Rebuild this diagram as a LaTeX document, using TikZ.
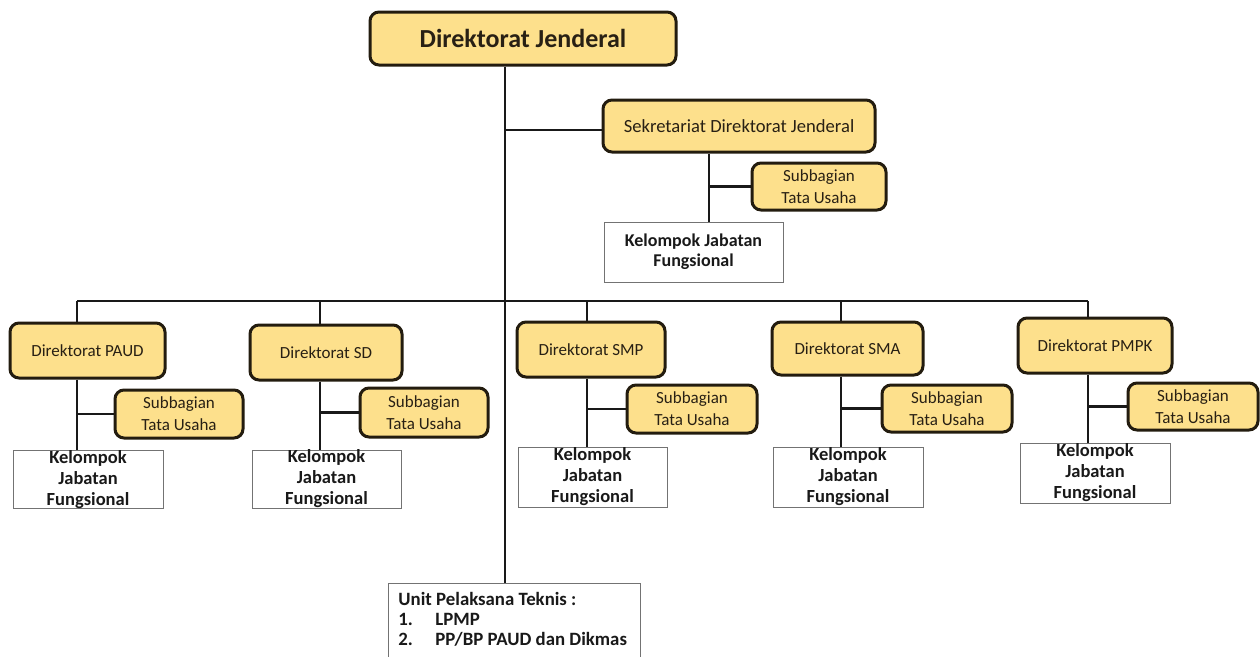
\documentclass[tikz,border=0pt]{standalone}
\usepackage{fontspec}
\setmainfont{Carlito}
\definecolor{boxfill}{RGB}{253,224,140}
\definecolor{boxline}{RGB}{35,28,15}
\definecolor{txt}{RGB}{40,32,20}
\begin{document}
\begin{tikzpicture}[x=1pt,y=-1pt,
  ybox/.style={draw=boxline, line width=3pt, fill=boxfill, rounded corners=9pt, inner sep=0pt, align=center, text=txt},
  dirbox/.style={ybox, font=\fontsize{17}{20}\selectfont},
  subbox/.style={ybox, font=\fontsize{17}{22}\selectfont},
  wbox/.style={draw=black!55, line width=0.9pt, fill=white, inner sep=0pt, align=center, text=black!90},
  kelbox/.style={wbox, font=\bfseries\fontsize{18.5}{21}\selectfont},
  conn/.style={draw=black!90, line width=2.4pt},
]
\useasboundingbox (0,0) rectangle (1260,656);
\clip (0,0) rectangle (1260,656);
\fill[white] (0,0) rectangle (1260,656);

% top
\node[ybox, minimum width=306pt, minimum height=53pt, font=\bfseries\fontsize{26}{30}\selectfont] (dj) at (523,38.5) {Direktorat Jenderal};
\node[ybox, minimum width=272pt, minimum height=52pt, font=\fontsize{18.6}{21}\selectfont] (sek) at (739,126) {Sekretariat Direktorat Jenderal};
\node[subbox, minimum width=134pt, minimum height=47pt] (sekSub) at (819,186.5) {Subbagian\\Tata Usaha};
\node[wbox, font=\bfseries\fontsize{18}{20}\selectfont, minimum width=179pt, minimum height=60pt] (sekKel) at (693.5,252) {Kelompok Jabatan\\Fungsional};

% directorates
\foreach \n/\lab/\lx/\dx/\dy/\dw/\dh/\sx/\sy/\sw/\sh/\kx/\ky/\kw/\kh in {
  1/PAUD/77/87.5/350.5/155/55/179/414/128/48/88/479.5/150/57,
  2/SD/320/326/352.5/152/55/424/412.5/128/49/326.5/479/149/58,
  3/SMP/587/591/349.5/148/55/692/409/130/48/592.5/477/149/60,
  4/SMA/841/847.5/348.5/151/53/947/408.5/130/47/848/477/150/60,
  5/PMPK/1088/1095/345.5/154/55/1193/406.5/130/47/1095/473/150/60}{
  \node[dirbox, minimum width=\dw pt, minimum height=\dh pt] (d\n) at (\dx,\dy) {Direktorat \lab};
  \node[subbox, minimum width=\sw pt, minimum height=\sh pt] (s\n) at (\sx,\sy) {Subbagian\\Tata Usaha};
  \node[kelbox, minimum width=\kw pt, minimum height=\kh pt] (k\n) at (\kx,\ky) {Kelompok\\Jabatan\\Fungsional};
  \coordinate (c\n) at (\lx,301);
  \draw[conn] (c\n) -- (c\n |- d\n.north);
  \draw[conn] (c\n |- d\n.south) -- (c\n |- k\n.north);
  \draw[conn] (c\n |- s\n.west) -- (s\n.west);
}

% bottom unit
\node[wbox, anchor=north west, inner xsep=10pt, inner ysep=9pt, text width=232pt, align=flush left,
      text depth=45pt, font=\bfseries\fontsize{18.8}{20}\selectfont] (upt) at (388,583)
  {Unit Pelaksana Teknis :\\\makebox[37pt][l]{1.}LPMP\\\makebox[37pt][l]{2.}PP/BP PAUD dan Dikmas};

% connectors
\coordinate (t) at (505,0);
\coordinate (sx) at (709,0);
\draw[conn] (t |- dj.south) -- (t |- upt.north);
\coordinate (sekIn) at ([yshift=-4pt]sek.west);
\draw[conn] (t |- sekIn) -- (sekIn);
\draw[conn] (c1) -- (c5);
\draw[conn] (sx |- sek.south) -- (sx |- sekKel.north);
\draw[conn] (sx |- sekSub.west) -- (sekSub.west);
\end{tikzpicture}
\end{document}
